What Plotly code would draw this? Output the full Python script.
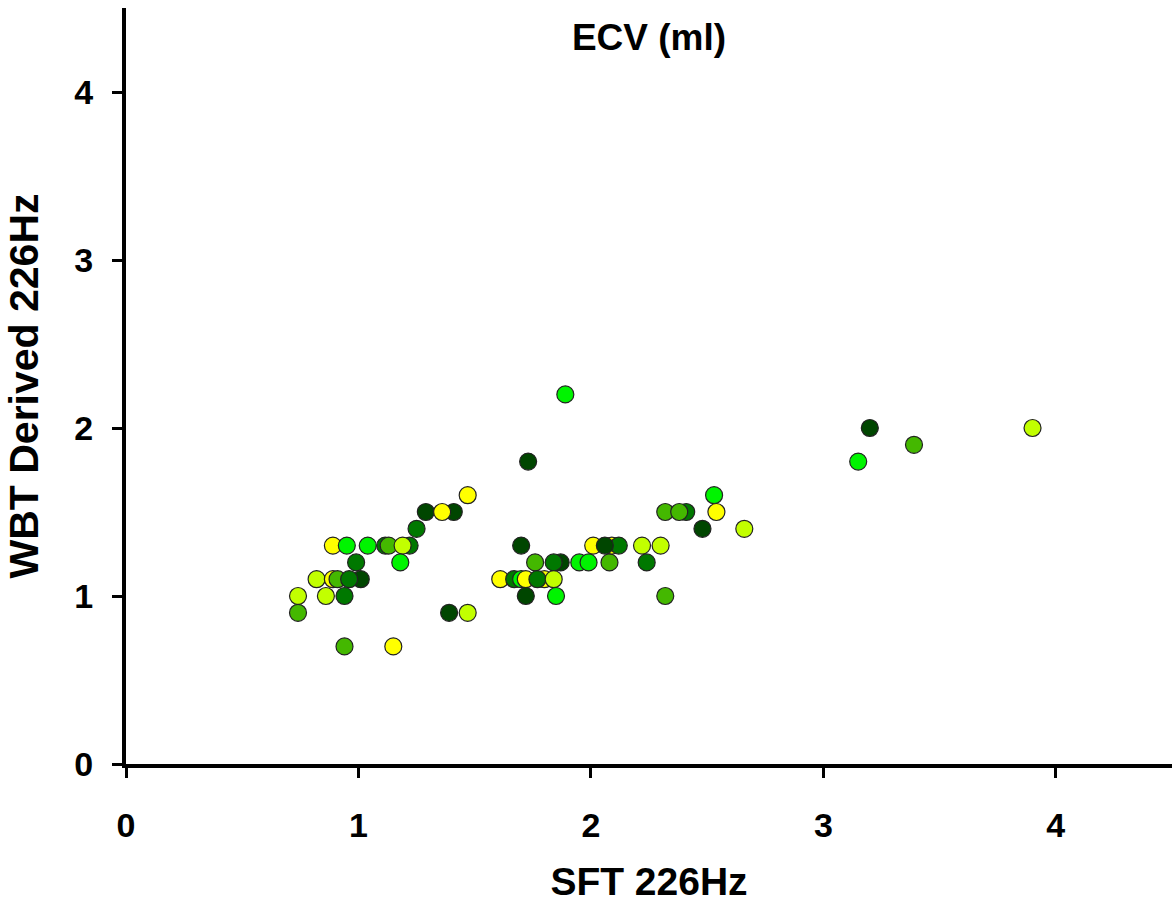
import plotly.graph_objects as go

# SFT 226Hz (x) and WBT Derived 226Hz (y) ECV values, with a colour group per point
sft = [0.74, 0.74, 0.82, 0.86, 0.89, 0.91, 1.01, 0.96, 0.94, 0.99,
       0.94, 1.15, 0.89, 0.95, 1.04, 1.115, 1.22, 1.13, 1.19, 1.18,
       1.25, 1.29, 1.41, 1.36, 1.47, 1.39, 1.47,
       1.73, 1.89, 1.70, 1.76, 1.87, 1.84, 1.95, 1.99, 2.08, 2.24,
       1.61, 1.67, 1.70, 1.72, 1.80, 1.77, 1.84, 1.72, 1.85,
       2.01, 2.09, 2.12, 2.06, 2.22, 2.30, 2.32, 2.41, 2.32, 2.38,
       2.48, 2.53, 2.54, 2.66,
       3.15, 3.20, 3.39, 3.90]
wbt = [1.0, 0.9, 1.1, 1.0, 1.1, 1.1, 1.1, 1.1, 1.0, 1.2,
       0.7, 0.7, 1.3, 1.3, 1.3, 1.3, 1.3, 1.3, 1.3, 1.2,
       1.4, 1.5, 1.5, 1.5, 1.6, 0.9, 0.9,
       1.8, 2.2, 1.3, 1.2, 1.2, 1.2, 1.2, 1.2, 1.2, 1.2,
       1.1, 1.1, 1.1, 1.1, 1.1, 1.1, 1.1, 1.0, 1.0,
       1.3, 1.3, 1.3, 1.3, 1.3, 1.3, 1.0, 1.5, 1.5, 1.5,
       1.4, 1.6, 1.5, 1.4,
       1.8, 2.0, 1.9, 2.0]
group = ["YG", "MG", "YG", "YG", "Y", "MG", "DK", "DG", "DG", "DG",
         "MG", "Y", "Y", "BG", "BG", "DG", "DG", "MG", "YG", "BG",
         "DG", "DK", "DK", "Y", "Y", "DK", "YG",
         "DK", "BG", "DK", "MG", "DK", "DG", "BG", "BG", "MG", "DG",
         "Y", "DG", "BG", "Y", "Y", "DG", "YG", "DK", "BG",
         "Y", "Y", "DG", "DK", "YG", "YG", "MG", "DG", "MG", "MG",
         "DK", "BG", "Y", "YG",
         "BG", "DK", "MG", "YG"]

palette = {"Y": "#ffff00", "YG": "#c2ff00", "BG": "#00f400",
           "MG": "#44b800", "DG": "#007800", "DK": "#004600"}

x_ticks = [0, 1, 2, 3, 4]
y_ticks = [0, 1, 2, 3, 4]

font_family = "Liberation Sans, Arial, sans-serif"

fig = go.Figure()
fig.add_trace(go.Scatter(
    x=sft, y=wbt, mode="markers",
    marker=dict(size=17, color=[palette[g] for g in group],
                line=dict(color="#222222", width=1.2)),
    showlegend=False, hoverinfo="x+y"))

axis_common = dict(
    range=[0, 4.5], showgrid=False, zeroline=False,
    showline=True, linecolor="black", linewidth=4,
    ticks="outside", ticklen=10, tickwidth=3, tickcolor="black",
    tickfont=dict(family=font_family, size=34, color="black", weight="bold"),
    automargin=False,
)

fig.update_layout(
    width=1175, height=907,
    margin=dict(l=126, r=3, t=8, b=143),
    paper_bgcolor="white", plot_bgcolor="white",
    font=dict(family=font_family, color="black"),
    title=dict(text="<b>ECV (ml)</b>", x=0.5, xref="paper", y=1 - 37 / 907,
               yref="container", yanchor="middle", xanchor="center",
               font=dict(family=font_family, size=37, color="black")),
    xaxis=dict(**axis_common, tickvals=x_ticks, ticklabelstandoff=18,
               title=dict(text="<b>SFT 226Hz</b>", standoff=26,
                          font=dict(family=font_family, size=39, color="black"))),
    yaxis=dict(**axis_common, tickvals=y_ticks, ticklabelstandoff=12,
               title=dict(text="<b>WBT Derived 226Hz</b>", standoff=24,
                          font=dict(family=font_family, size=41, color="black"))),
)

fig.write_html("out.html")
